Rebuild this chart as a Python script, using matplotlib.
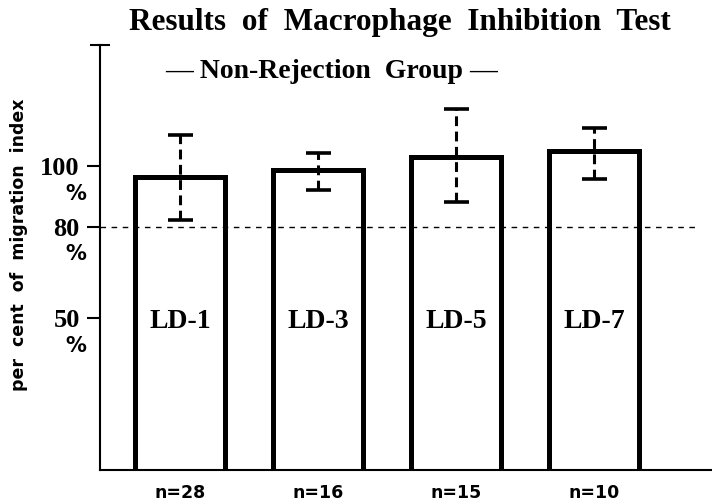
import matplotlib
matplotlib.use('Agg')
import matplotlib.pyplot as plt
import matplotlib.transforms as mtransforms

# data
groups = ['LD-1', 'LD-3', 'LD-5', 'LD-7']
counts = ['n=28', 'n=16', 'n=15', 'n=10']
means = [96.4, 98.7, 103.0, 105.0]
err_high = [110.5, 104.3, 118.8, 112.8]
err_low = [82.2, 92.1, 88.2, 96.0]
yticks = [50, 80, 100]
ref_level = 80

serif = 'Liberation Serif'
sans = 'DejaVu Sans'

fig = plt.figure(figsize=(7.12, 5.04), dpi=100)
ax = fig.add_axes([100 / 712, 34 / 504, 612 / 712, 425 / 504])

x = list(range(len(groups)))
width = 0.65

# open bar outlines (no bottom edge, the axis line serves as the base)
for xi, m, name in zip(x, means, groups):
    ax.plot([xi - width / 2, xi - width / 2, xi + width / 2, xi + width / 2],
            [0, m, m, 0], color='black', lw=3.6, solid_joinstyle='miter',
            solid_capstyle='butt', zorder=3)
    ax.text(xi, 49, name, ha='center', va='center',
            fontsize=20, family=serif, weight='bold')

# dashed error bars with solid caps
yerr = [[m - lo for m, lo in zip(means, err_low)],
        [hi - m for m, hi in zip(means, err_high)]]
eb = ax.errorbar(x, means, yerr=yerr, fmt='none', ecolor='black',
                 elinewidth=2.2, capsize=9, capthick=2.6, zorder=4)
eb[2][0].set_linestyle((0, (3.2, 1.8)))

# reference line at 80 %
ax.plot([-0.58, 3.75], [ref_level, ref_level], color='black', lw=1.0,
        ls=(0, (4, 4)), zorder=2)

ax.set_xlim(-0.58, 3.855)
ax.set_ylim(0, 140)

ax.spines['top'].set_visible(False)
ax.spines['right'].set_visible(False)
ax.spines['left'].set_linewidth(1.5)
ax.spines['bottom'].set_linewidth(1.5)

ax.set_yticks(yticks)
ax.set_yticklabels([str(t) for t in yticks], family=serif, weight='bold',
                   fontsize=19)
ax.tick_params(axis='y', direction='out', length=9.5, width=1.5, pad=5)

ax.set_xticks(x)
ax.set_xticklabels(counts, family=sans, weight='bold', fontsize=12.5)
ax.tick_params(axis='x', length=0, pad=10)

# "%" under each y tick number
trans = mtransforms.blended_transform_factory(ax.transAxes, ax.transData)
for t in yticks:
    ax.text(-0.04, t - 9, '%', transform=trans, ha='center', va='center',
            fontsize=15, weight='bold', family=sans)

# small cap at the top of the y axis
ax.plot([0], [140], marker='_', markersize=14, mew=1.5, color='black',
        clip_on=False, transform=trans)

ax.set_ylabel('per  cent  of  migration  index', family=sans,
              weight='bold', fontsize=12.5)
ax.yaxis.set_label_coords(-0.118, 0.53)

fig.text(0.562, 0.956, 'Results  of  Macrophage  Inhibition  Test', ha='center',
         va='center', fontsize=22.5, family=serif, weight='bold')
fig.text(0.465, 0.858, '\u2014 Non-Rejection  Group \u2014', ha='center',
         va='center', fontsize=20, family=serif, weight='bold')

fig.savefig('out.png', dpi=100)
